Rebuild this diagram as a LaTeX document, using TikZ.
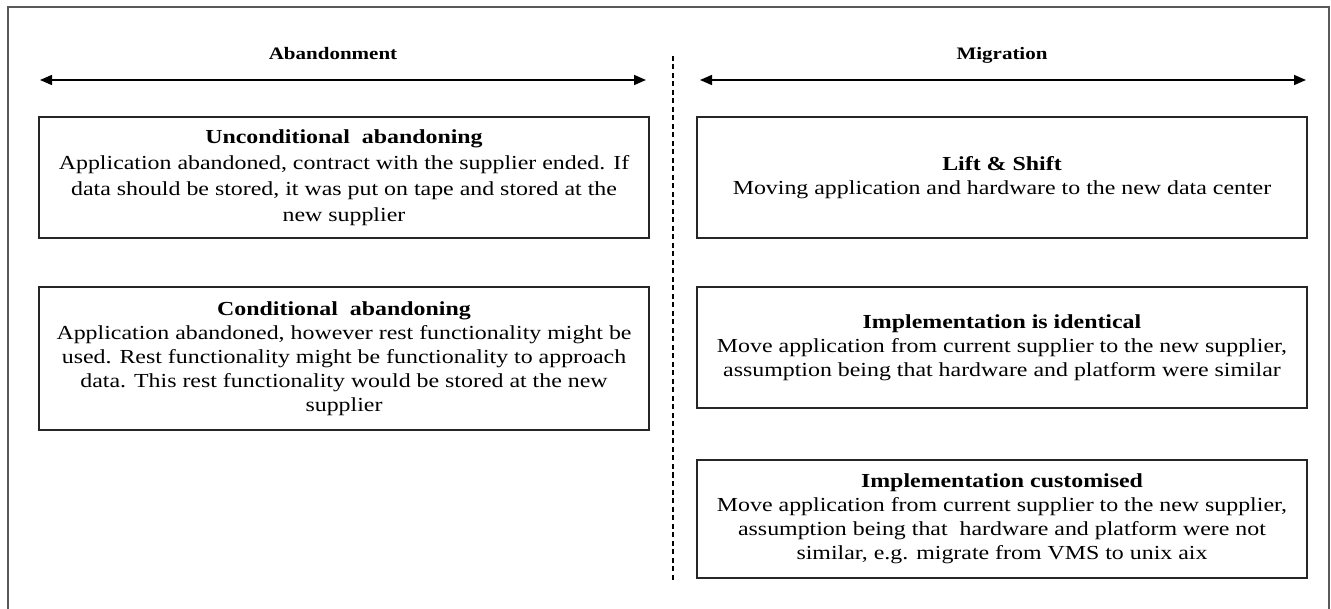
\documentclass[tikz,border=0pt]{standalone}
\usepackage{fontspec}
\setmainfont{Liberation Serif}[FakeStretch=1.2]
\usetikzlibrary{arrows.meta}
\begin{document}
\begin{tikzpicture}[x=1pt,y=-1pt,
  panel/.style={draw=black!85, line width=1.2pt, align=center, inner sep=0pt,
    minimum width=610pt, font=\fontsize{19.9}{24}\selectfont},
  wide/.style={font=\fontsize{19.9}{26}\selectfont},
  head/.style={anchor=base, font=\bfseries\fontsize{17.5}{20}\selectfont},
  span/.style={{Triangle[length=12pt,width=10pt]}-{Triangle[length=12pt,width=10pt]}, line width=1.5pt},
  divider/.style={line width=1.6pt, dash pattern=on 5pt off 3.5pt},
  frame/.style={line width=2pt, black!65},
]
\useasboundingbox (0,0) rectangle (1331,609);

% open frame (left, top, right)
\draw[frame] (8,609) -- (8,7) -- (1329,7) -- (1329,609);

% column headings
\node[head] (abhead) at (333,60) {Abandonment};
\node[head] (mighead) at (1002,60) {Migration};

% double-headed spans under the headings
\coordinate (abL) at (40,80);
\coordinate (abR) at (646,80);
\coordinate (miL) at (700,80);
\coordinate (miR) at (1306,80);
\draw[span] (abL) -- (abR);
\draw[span] (miL) -- (miR);

% dashed divider between the two columns
\coordinate (divT) at (673,56);
\coordinate (divB) at (673,580);
\draw[divider] (divT) -- (divB);

% abandonment options
\node[panel, wide, minimum height=121pt] (uncond) at (344,177.5)
  {\textbf{Unconditional\ \ abandoning}\\
   Application abandoned, contract with the supplier ended. If\\
   data should be stored, it was put on tape and stored at the\\
   new supplier};
\node[panel, minimum height=143pt] (cond) at (344,358.5)
  {\textbf{Conditional\ \ abandoning}\\
   Application abandoned, however rest functionality might be\\
   used. Rest functionality might be functionality to approach\\
   data. This rest functionality would be stored at the new\\
   supplier};

% migration options
\node[panel, minimum height=121pt] (lift) at (1002,177.5)
  {\textbf{Lift \& Shift}\\
   Moving application and hardware to the new data center};
\node[panel, minimum height=121pt] (ident) at (1002,347.5)
  {\textbf{Implementation is identical}\\
   Move application from current supplier to the new supplier,\\
   assumption being that hardware and platform were similar};
\node[panel, minimum height=118pt] (custom) at (1002,519)
  {\textbf{Implementation customised}\\
   Move application from current supplier to the new supplier,\\
   assumption being that\ \ hardware and platform were not\\
   similar, e.g. migrate from VMS to unix aix};
\end{tikzpicture}
\end{document}
